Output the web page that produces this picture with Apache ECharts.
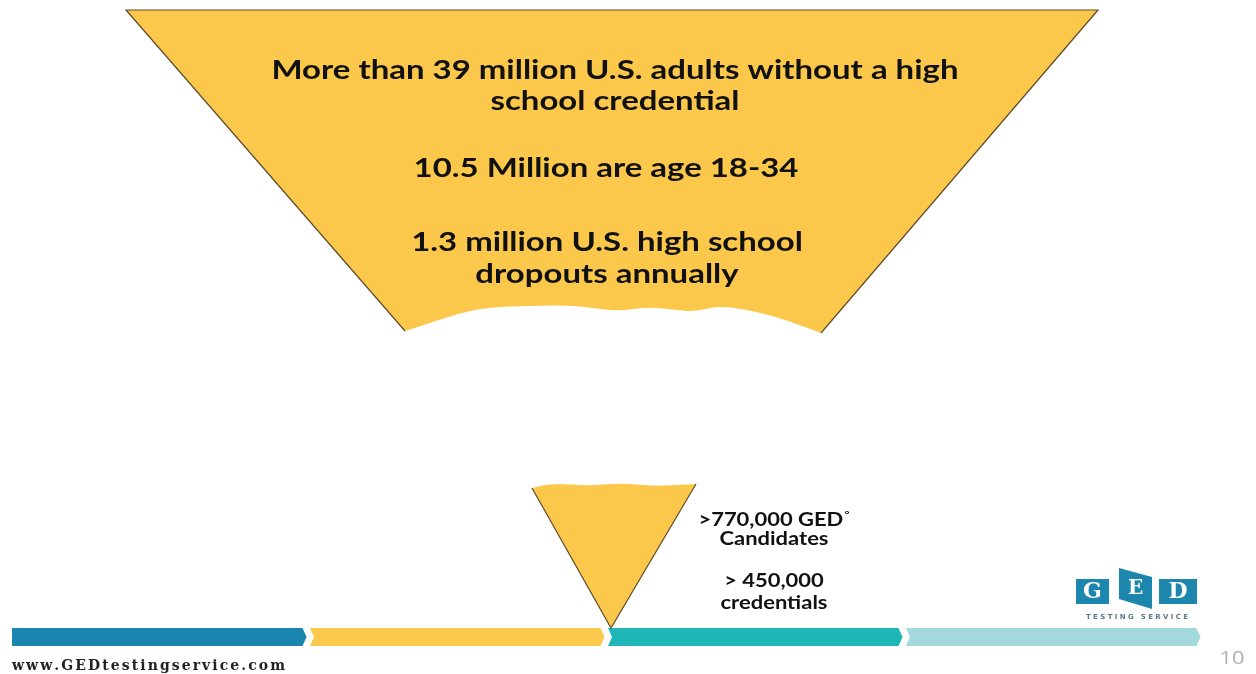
<!DOCTYPE html>
<html><head><meta charset="utf-8">
<script src="https://cdn.jsdelivr.net/npm/echarts@6/dist/echarts.min.js"></script>
<style>html,body{margin:0;padding:0;background:#fff}#c{width:1256px;height:674px}</style>
</head><body><div id="c"></div>
<script>
// ---------------- data ----------------
const funnelStages = ['U.S. adults without a high school credential', 'GED candidates and credentials'];
const bigFunnelBlocks = [
  ['More than 39 million U.S. adults without a high', 'school credential'],
  ['10.5 Million are age 18-34'],
  ['1.3 million U.S. high school', 'dropouts annually']
];
const smallFunnelBlocks = [
  ['>770,000 GED{sup|°}', 'Candidates'],
  ['> 450,000', 'credentials']
];
const timelineSegments = ['Segment 1', 'Segment 2', 'Segment 3', 'Segment 4'];
const timelineValues = [1, 1, 1, 1];
const footerText = 'www.GEDtestingservice.com';
const pageNumber = '10';
const logoLetters = ['G', 'E', 'D'];
const logoTagline = 'TESTING SERVICE';

// ---------------- layout / style ----------------
const YELLOW = '#fcc84b';
const EDGE = '#5e4c2c';
const TIMELINE_COLORS = ['#1a86af', '#fcc94c', '#1fb6b7', '#a3d9dc'];
const STRETCH = 1.22; // the slide is horizontally stretched
const SHAPES = [
  { // big funnel (truncated)
    outline: [[405, 331], [126, 10], [1098, 10], [821, 333]],
    wave: [[821, 333], [805, 327], [780, 318], [745, 309], [716, 306], [695, 312], [670, 309], [645, 307], [622, 311], [600, 309], [570, 305], [530, 306], [490, 307], [460, 313], [430, 323], [405, 331]]
  },
  { // small funnel
    outline: [[532, 488], [611, 628], [696, 484]],
    wave: [[696, 484], [675, 485], [653, 486], [620, 483], [587, 486], [553, 483], [532, 488]]
  }
];
const BIG_TEXT = { centers: [615, 606, 607], ys: [[70, 101], [168], [242, 274]], font: 'bold 27px Lato' };
const SMALL_TEXT = { center: 774, ys: [[520, 539], [581, 603]], font: 'bold 18px Lato' };

const chart = echarts.init(document.getElementById('c'), null, { renderer: 'canvas' });

function wavePath(api, pts) {
  const p = pts.map(q => api.coord(q));
  let d = '';
  for (let i = 1; i < p.length - 1; i++) {
    const m = [(p[i][0] + p[i + 1][0]) / 2, (p[i][1] + p[i + 1][1]) / 2];
    d += ' Q ' + p[i][0] + ' ' + p[i][1] + ' ' + m[0] + ' ' + m[1];
  }
  d += ' L ' + p[p.length - 1][0] + ' ' + p[p.length - 1][1];
  return d;
}

function renderFunnel(params, api) {
  const s = SHAPES[params.dataIndex];
  const o = s.outline.map(q => api.coord(q));
  let d = 'M ' + o[0][0] + ' ' + o[0][1];
  for (let i = 1; i < o.length; i++) d += ' L ' + o[i][0] + ' ' + o[i][1];
  d += wavePath(api, s.wave) + ' Z';
  return {
    type: 'group',
    children: [
      { type: 'path', shape: { pathData: d }, style: { fill: YELLOW, stroke: null } },
      { type: 'polyline', shape: { points: o }, style: { fill: null, stroke: EDGE, lineWidth: 1.2 } }
    ]
  };
}

function renderSegment(params, api) {
  const i = params.dataIndex;
  const a = api.coord([api.value(0), 0]);
  const b = api.coord([api.value(1), 0]);
  const h = api.size([0, 1])[1];
  const top = a[1] - h / 2, bot = a[1] + h / 2, mid = a[1];
  const lx = a[0] + 2, rx = b[0] - 1.5;
  const tip = 4, notch = i > 0 ? 4 : 0;
  const pts = [[lx, top], [rx - tip, top], [rx, mid], [rx - tip, bot], [lx, bot]];
  if (notch) pts.push([lx + notch, mid]);
  return { type: 'polygon', shape: { points: pts }, style: { fill: TIMELINE_COLORS[i] } };
}

let acc = 0;
const segData = timelineValues.map((v, i) => { const r = { name: timelineSegments[i], value: [acc, acc + v] }; acc += v; return r; });

function textEl(str, x, y, font, fill, align, sx) {
  return { type: 'text', x: x, y: y, z: 100, silent: true, scaleX: sx || 1,
    style: { text: str, font: font, fill: fill, align: align || 'center', verticalAlign: 'middle', textAlign: align || 'center', textVerticalAlign: 'middle' } };
}
function richEl(str, x, y, font, fill, sx) {
  return { type: 'text', x: x, y: y, z: 100, silent: true, scaleX: sx || 1,
    style: { text: str, font: font, fill: fill, align: 'center', verticalAlign: 'middle', textAlign: 'center', textVerticalAlign: 'middle',
      rich: { sup: { font: 'bold 10px Lato', fill: fill, verticalAlign: 'top', padding: [0, 0, 10, 1] } } } };
}
function spacedText(str, x, y, font, width, fill) {
  const ctx = document.createElement('canvas').getContext('2d');
  ctx.font = font;
  const ws = [...str].map(ch => ctx.measureText(ch).width);
  const nat = ws.reduce((s, w) => s + w, 0);
  const sp = (width - nat) / (str.length - 1);
  const els = []; let cx = x;
  [...str].forEach((ch, k) => { els.push(textEl(ch, cx, y, font, fill, 'left')); cx += ws[k] + sp; });
  return els;
}

const graphics = [];
bigFunnelBlocks.forEach((blk, b) => blk.forEach((line, l) => graphics.push(textEl(line, BIG_TEXT.centers[b], BIG_TEXT.ys[b][l], BIG_TEXT.font, '#111', 'center', STRETCH))));
smallFunnelBlocks.forEach((blk, b) => blk.forEach((line, l) => graphics.push(richEl(line, SMALL_TEXT.center, SMALL_TEXT.ys[b][l], SMALL_TEXT.font, '#111', STRETCH))));
graphics.push(...spacedText(footerText, 12, 666, 'bold 14px "DejaVu Serif"', 273, '#222'));
graphics.push(textEl(pageNumber, 1232, 659, '18px "Open Sans"', '#b0b0b0', 'center', STRETCH));
// logo
const LOGO_BLUE = '#1c86ad';
graphics.push({ type: 'rect', z: 100, shape: { x: 1076, y: 579, width: 33, height: 25 }, style: { fill: LOGO_BLUE } });
graphics.push({ type: 'polygon', z: 100, shape: { points: [[1119, 568], [1152, 577], [1152, 609], [1119, 599]] }, style: { fill: LOGO_BLUE } });
graphics.push({ type: 'rect', z: 100, shape: { x: 1159, y: 579, width: 38, height: 25 }, style: { fill: LOGO_BLUE } });
graphics.push(textEl(logoLetters[0], 1092.5, 592, 'bold 22px "DejaVu Serif"', '#fff'));
graphics.push(textEl(logoLetters[1], 1135.5, 589, 'bold 20px "DejaVu Serif"', '#fff'));
graphics.push(textEl(logoLetters[2], 1178, 592, 'bold 22px "DejaVu Serif"', '#fff'));
graphics.push(...spacedText(logoTagline, 1086, 617, 'bold 7px "DejaVu Sans"', 102, '#587a8c'));

chart.setOption({
  animation: false,
  backgroundColor: '#ffffff',
  grid: [
    { left: 0, right: 0, top: 0, bottom: 0 },
    { left: 10, width: 1192, top: 628, height: 18 }
  ],
  xAxis: [
    { gridIndex: 0, type: 'value', min: 0, max: 1256, show: false },
    { gridIndex: 1, type: 'value', min: 0, max: 4, show: false }
  ],
  yAxis: [
    { gridIndex: 0, type: 'value', min: 0, max: 674, inverse: true, show: false },
    { gridIndex: 1, type: 'category', data: ['timeline'], show: false }
  ],
  series: [
    { type: 'custom', xAxisIndex: 0, yAxisIndex: 0, renderItem: renderFunnel,
      data: funnelStages.map((n, i) => ({ name: n, value: [i, 0] })), z: 2 },
    { type: 'custom', xAxisIndex: 1, yAxisIndex: 1, renderItem: renderSegment,
      encode: { x: [0, 1] }, data: segData, z: 1 }
  ],
  graphic: { elements: graphics }
});
</script></body></html>
